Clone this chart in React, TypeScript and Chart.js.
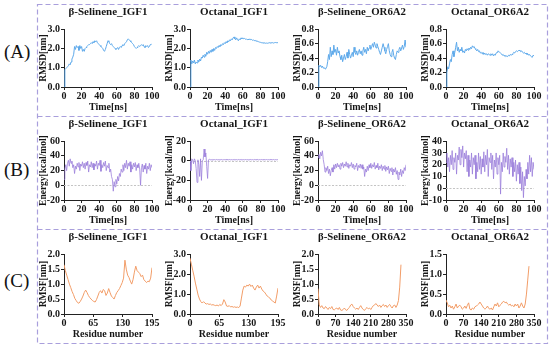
import React, { useEffect, useRef } from 'react';
import { Chart, registerables } from 'chart.js';

Chart.register(...registerables);

const SERIF = '"Times New Roman", "Liberation Serif", "DejaVu Serif", serif';

// ---------- Titles / labels ----------
const ROW_LABELS = ['(A)', '(B)', '(C)'];
const PANEL_TITLES = ['β-Selinene_IGF1', 'Octanal_IGF1', 'β-Selinene_OR6A2', 'Octanal_OR6A2'];
const X_TITLE_TIME = 'Time[ns]';
const X_TITLE_RES = 'Residue number';
const Y_TITLES = ['RMSD[nm]', 'Energy[kcal/mol]', 'RMSF[nm]'];

// ---------- (A) RMSD, one value per ns, 0..100 ns ----------
const RMSD_SEL_IGF1 = [
  0.0, 0.9, 0.95, 1.0, 1.05, 1.1, 1.2, 1.15, 1.3, 1.45,
  1.55, 1.7, 2.1, 1.95, 2.15, 2.05, 2.1, 1.9, 2.15, 2.0,
  2.1, 1.85, 1.95, 1.85, 2.0, 2.05, 2.1, 2.15, 2.2, 2.2,
  2.25, 2.3, 2.25, 2.35, 2.3, 2.4, 2.35, 2.4, 2.3, 2.25,
  2.2, 2.15, 2.1, 2.05, 2.0, 1.9, 1.85, 1.95, 2.1, 2.25,
  2.4, 2.35, 2.25, 2.2, 2.25, 2.15, 2.1, 2.05, 2.0, 1.95,
  2.0, 2.05, 1.95, 2.05, 2.1, 2.05, 2.15, 2.2, 2.15, 2.25,
  2.3, 2.35, 2.45, 2.5, 2.45, 2.4, 2.35, 2.3, 2.25, 2.2,
  2.1, 2.05, 2.0, 2.05, 2.1, 2.15, 2.1, 2.15, 2.2, 2.15,
  2.2, 2.1, 2.05, 2.15, 2.1, 2.15, 2.05, 2.1, 2.2, 2.2,
  2.25,
];
const RMSD_OCT_IGF1 = [
  0, 1.4, 1.2, 1.35, 1.25, 1.4, 1.2, 1.3, 1.25, 1.4,
  1.3, 1.45, 1.35, 1.55, 1.5, 1.65, 1.55, 1.7, 1.6, 1.8,
  1.7, 1.85, 1.75, 1.9, 1.8, 1.95, 1.85, 2.0, 1.9, 2.05,
  2.0, 2.1, 2.05, 2.15, 2.1, 2.2, 2.15, 2.25, 2.2, 2.3,
  2.25, 2.35, 2.3, 2.4, 2.35, 2.45, 2.4, 2.5, 2.45, 2.55,
  2.6, 2.5, 2.45, 2.55, 2.45, 2.4, 2.5, 2.45, 2.55, 2.5,
  2.55, 2.5, 2.52, 2.48, 2.5, 2.45, 2.48, 2.45, 2.5, 2.45,
  2.47, 2.42, 2.45, 2.4, 2.42, 2.38, 2.4, 2.36, 2.35, 2.33,
  2.32, 2.3, 2.3, 2.28, 2.3, 2.28, 2.27, 2.28, 2.27, 2.28,
  2.3, 2.29, 2.28, 2.3, 2.3, 2.28, 2.3, 2.31, 2.3, 2.3,
  2.3,
];
const RMSD_SEL_OR6A2 = [
  0, 0.3, 0.28, 0.3, 0.27, 0.29, 0.26, 0.27, 0.25, 0.26,
  0.28, 0.35, 0.45, 0.38, 0.55, 0.42, 0.5, 0.45, 0.58, 0.48,
  0.52, 0.44, 0.55, 0.47, 0.5, 0.42, 0.38, 0.44, 0.35, 0.4,
  0.45, 0.38, 0.42, 0.48, 0.4, 0.52, 0.45, 0.4, 0.44, 0.48,
  0.42, 0.55, 0.48, 0.45, 0.5, 0.44, 0.48, 0.52, 0.46, 0.5,
  0.44, 0.5, 0.55, 0.48, 0.52, 0.46, 0.55, 0.5, 0.54, 0.58,
  0.52, 0.56, 0.6, 0.55, 0.62, 0.58, 0.54, 0.6, 0.56, 0.52,
  0.48, 0.45, 0.5, 0.55, 0.6, 0.55, 0.5, 0.46, 0.52, 0.56,
  0.6, 0.5, 0.45, 0.42, 0.48, 0.52, 0.44, 0.4, 0.38, 0.45,
  0.5, 0.48, 0.52, 0.55, 0.5, 0.54, 0.58, 0.52, 0.56, 0.65,
  0.55,
];
const RMSD_OCT_OR6A2 = [
  0, 0.2, 0.28, 0.25, 0.32, 0.38, 0.35, 0.45, 0.5, 0.42,
  0.48, 0.55, 0.62, 0.5, 0.55, 0.48, 0.52, 0.5, 0.55, 0.48,
  0.5, 0.47, 0.52, 0.5, 0.53, 0.51, 0.54, 0.52, 0.55, 0.53,
  0.57, 0.55, 0.56, 0.53, 0.52, 0.5, 0.52, 0.49, 0.5, 0.47,
  0.48, 0.46, 0.48, 0.45, 0.47, 0.45, 0.46, 0.44, 0.46, 0.45,
  0.44, 0.46, 0.44, 0.46, 0.43, 0.45, 0.44, 0.47, 0.48, 0.5,
  0.49, 0.48, 0.47, 0.46, 0.44, 0.45, 0.43, 0.44, 0.42, 0.43,
  0.42, 0.44, 0.43, 0.45, 0.44, 0.45, 0.46, 0.48, 0.47, 0.49,
  0.5, 0.49, 0.5, 0.51, 0.5, 0.49, 0.5, 0.48, 0.47, 0.48,
  0.46, 0.47, 0.45, 0.46, 0.44, 0.45, 0.43, 0.42, 0.41, 0.44,
  0.43,
];

// ---------- (B) Energy, one value per ns, 0..100 ns ----------
const EN_SEL_IGF1 = [
  8, 22, 28, 20, 30, 34, 26, 36, 30, 33,
  24, 28, 16, 26, 22, 30, 25, 31, 20, 29,
  26, 32, 24, 30, 22, 31, 27, 33, 18, 28,
  25, 32, 24, 30, 21, 29, 26, 33, 22, 30,
  27, 34, 19, 28, 24, 31, 26, 33, 20, 27,
  24, 30, 18, 22, 12, 8, -8, 5, -2, 8,
  2, 12, 6, 16, 12, 22, 18, 28, 20, 30,
  24, 34, 22, 30, 26, 32, 18, 28, 22, 30,
  25, 31, 20, 28, 24, 30, 22, 0, 24, 29,
  18, 27, 22, 30, 16, 26, 22, 30, 20, 28,
  24,
];
const EN_OCT_IGF1 = [
  0, -10, 2, 1, -3, 2, 0, -8, -22, 1,
  -4, -16, 2, -20, 0, 1, 12, 4, 8, -6,
  -18, 1, 1.5, 1, 1.2, 0.8, 1.3, 1, 1.2, 0.9,
  1.3, 1, 1.2, 0.9, 1.2, 1, 1.3, 0.9, 1.1, 1.2,
  1, 1.3, 0.9, 1.2, 1, 1.3, 1, 1.2, 0.9, 1.2,
  1, 1.3, 1, 1.2, 0.9, 1.3, 1, 1.2, 1, 1.3,
  0.9, 1.2, 1, 1.3, 1, 1.2, 0.9, 1.2, 1, 1.3,
  1, 1.2, 0.9, 1.3, 1, 1.2, 1, 1.3, 0.9, 1.2,
  1, 1.3, 1, 1.2, 0.9, 1.2, 1, 1.3, 1, 1.2,
  0.9, 1.3, 1, 1.2, 1, 1.3, 0.9, 1.2, 1, 1.2,
  1,
];
const EN_SEL_OR6A2 = [
  38, 42, 36, 45, 40, 47, 35, 28, 18, 24,
  20, 26, 16, 22, 13, 20, 24, 18, 28, 22,
  29, 24, 30, 25, 28, 22, 30, 26, 31, 24,
  29, 26, 32, 25, 30, 23, 28, 26, 31, 24,
  29, 22, 27, 25, 30, 20, 27, 24, 29, 23,
  28, 22, 25, 12, 22, 18, 26, 20, 28, 24,
  30, 23, 28, 25, 31, 22, 27, 24, 30, 21,
  26, 23, 28, 20, 26, 22, 27, 19, 25, 21,
  26, 16, 23, 19, 24, 14, 22, 18, 24, 15,
  20, 8, 18, 14, 22, 12, 20, 16, 24, 20,
  28,
];
const EN_OCT_OR6A2 = [
  22, 30, 18, 26, 14, 28, 20, 32, 16, 26,
  22, 30, 12, 28, 24, 35, 20, 33, 26, 36,
  18, 30, 25, 32, 14, 28, 10, 24, 18, 30,
  12, 26, 20, 28, 8, 22, 14, 30, 16, 27,
  12, 25, 18, 31, 14, 28, 20, 33, 10, 26,
  22, 30, 16, 28, 8, 24, 18, 30, 12, 26,
  20, 28, -5, 22, 14, 30, 18, 27, 22, 34,
  16, 28, 12, 25, 18, 26, 10, 22, 14, 24,
  6, 20, 12, 22, 4, 18, -2, 14, -8, 10,
  2, 16, 8, 22, 12, 28, 14, 26, 10, 22,
  16,
];

// ---------- (C) RMSF ----------
// IGF1: every 3rd residue, 0..195
const RMSF_SEL_IGF1 = [
  1.65, 1.45, 1.3, 1.15, 1.0, 0.88, 0.75, 0.65, 0.52, 0.45,
  0.38, 0.36, 0.42, 0.5, 0.6, 0.72, 0.8, 0.72, 0.62, 0.55,
  0.5, 0.45, 0.42, 0.4, 0.48, 0.6, 0.72, 0.78, 0.7, 0.82,
  0.78, 0.62, 0.7, 0.85, 0.72, 0.6, 0.55, 0.5, 0.62, 0.72,
  0.78, 0.85, 0.95, 1.05, 1.2, 1.8, 1.5, 1.3, 1.22, 1.1,
  1.0, 1.15, 1.4, 1.6, 1.45, 1.4, 1.35, 1.25, 1.3, 1.15,
  1.1, 1.05, 1.1, 1.08, 1.2, 1.55,
];
const RMSF_OCT_IGF1 = [
  2.8, 2.5, 2.2, 1.9, 1.55, 1.25, 0.95, 0.75, 0.62, 0.55,
  0.62, 0.55, 0.5, 0.52, 0.48, 0.5, 0.45, 0.47, 0.44, 0.42,
  0.45, 0.4, 0.48, 0.42, 0.5, 0.72, 0.6, 0.4, 0.38, 0.42,
  0.35, 0.38, 0.34, 0.36, 0.33, 0.35, 0.32, 0.4, 0.8, 1.2,
  1.4, 1.35, 1.45, 1.4, 1.5, 1.38, 1.45, 1.3, 1.2, 1.35,
  1.45, 1.3, 1.4, 1.25, 1.15, 1.1, 1.0, 0.9, 0.85, 0.8,
  0.7, 0.65, 0.6, 0.55, 0.9, 1.3,
];
// OR6A2: every 5th residue, 0..330
const RMSF_SEL_OR6A2 = [
  0.85, 0.3, 0.22, 0.28, 0.2, 0.18, 0.25, 0.2, 0.15, 0.22,
  0.18, 0.25, 0.15, 0.14, 0.18, 0.2, 0.15, 0.22, 0.13, 0.12,
  0.15, 0.2, 0.14, 0.12, 0.18, 0.22, 0.3, 0.33, 0.25, 0.2,
  0.16, 0.2, 0.15, 0.22, 0.28, 0.2, 0.15, 0.12, 0.18, 0.22,
  0.17, 0.2, 0.15, 0.22, 0.28, 0.3, 0.35, 0.3, 0.25, 0.3,
  0.22, 0.28, 0.32, 0.25, 0.3, 0.22, 0.28, 0.32, 0.25, 0.2,
  0.28, 0.3, 0.22, 0.3, 0.45, 0.9, 1.65,
];
const RMSF_OCT_OR6A2 = [
  0.35, 0.28, 0.18, 0.22, 0.15, 0.2, 0.12, 0.18, 0.25, 0.15,
  0.2, 0.22, 0.18, 0.12, 0.15, 0.2, 0.14, 0.22, 0.28, 0.12,
  0.1, 0.15, 0.12, 0.18, 0.2, 0.22, 0.25, 0.3, 0.25, 0.2,
  0.15, 0.12, 0.15, 0.2, 0.14, 0.12, 0.15, 0.1, 0.18, 0.25,
  0.2, 0.28, 0.18, 0.22, 0.25, 0.3, 0.32, 0.28, 0.3, 0.25,
  0.22, 0.25, 0.2, 0.22, 0.18, 0.25, 0.2, 0.25, 0.15, 0.2,
  0.28, 0.2, 0.15, 0.25, 0.5, 0.85, 1.2,
];

// ---------- Axis ranges ----------
const TIME_STEP = 1;
const RES_STEP_IGF1 = 3;
const RES_STEP_OR6A2 = 5;

type PanelCfg = {
  title: string;
  values: number[];
  step: number;
  color: string;
  lineWidth: number;
  xMax: number;
  xStep: number;
  yMin: number;
  yMax: number;
  yStep: number;
  yDec: number;
  xTitle: string;
  yTitle: string;
  zero?: boolean;
};

const BLUE = '#5ea9ea';
const PURPLE = 'rgba(152,124,218,0.85)';
const ORANGE = '#f29d68';

const ROWS: PanelCfg[][] = [
  [
    { title: PANEL_TITLES[0], values: RMSD_SEL_IGF1, step: TIME_STEP, color: BLUE, lineWidth: 1, xMax: 100, xStep: 20, yMin: 0, yMax: 3, yStep: 1, yDec: 1, xTitle: X_TITLE_TIME, yTitle: Y_TITLES[0] },
    { title: PANEL_TITLES[1], values: RMSD_OCT_IGF1, step: TIME_STEP, color: BLUE, lineWidth: 1, xMax: 100, xStep: 20, yMin: 0, yMax: 3, yStep: 1, yDec: 1, xTitle: X_TITLE_TIME, yTitle: Y_TITLES[0] },
    { title: PANEL_TITLES[2], values: RMSD_SEL_OR6A2, step: TIME_STEP, color: BLUE, lineWidth: 1, xMax: 100, xStep: 20, yMin: 0, yMax: 0.8, yStep: 0.2, yDec: 1, xTitle: X_TITLE_TIME, yTitle: Y_TITLES[0] },
    { title: PANEL_TITLES[3], values: RMSD_OCT_OR6A2, step: TIME_STEP, color: BLUE, lineWidth: 1, xMax: 100, xStep: 20, yMin: 0, yMax: 0.8, yStep: 0.2, yDec: 1, xTitle: X_TITLE_TIME, yTitle: Y_TITLES[0] },
  ],
  [
    { title: PANEL_TITLES[0], values: EN_SEL_IGF1, step: TIME_STEP, color: PURPLE, lineWidth: 0.9, xMax: 100, xStep: 20, yMin: -20, yMax: 60, yStep: 20, yDec: 0, xTitle: X_TITLE_TIME, yTitle: Y_TITLES[1], zero: true },
    { title: PANEL_TITLES[1], values: EN_OCT_IGF1, step: TIME_STEP, color: PURPLE, lineWidth: 0.9, xMax: 100, xStep: 20, yMin: -40, yMax: 20, yStep: 20, yDec: 0, xTitle: X_TITLE_TIME, yTitle: Y_TITLES[1], zero: true },
    { title: PANEL_TITLES[2], values: EN_SEL_OR6A2, step: TIME_STEP, color: PURPLE, lineWidth: 0.9, xMax: 100, xStep: 20, yMin: -20, yMax: 60, yStep: 20, yDec: 0, xTitle: X_TITLE_TIME, yTitle: Y_TITLES[1], zero: true },
    { title: PANEL_TITLES[3], values: EN_OCT_OR6A2, step: TIME_STEP, color: PURPLE, lineWidth: 0.9, xMax: 100, xStep: 20, yMin: -10, yMax: 40, yStep: 10, yDec: 0, xTitle: X_TITLE_TIME, yTitle: Y_TITLES[1], zero: true },
  ],
  [
    { title: PANEL_TITLES[0], values: RMSF_SEL_IGF1, step: RES_STEP_IGF1, color: ORANGE, lineWidth: 1, xMax: 195, xStep: 65, yMin: 0, yMax: 2, yStep: 0.5, yDec: 1, xTitle: X_TITLE_RES, yTitle: Y_TITLES[2] },
    { title: PANEL_TITLES[1], values: RMSF_OCT_IGF1, step: RES_STEP_IGF1, color: ORANGE, lineWidth: 1, xMax: 195, xStep: 65, yMin: 0, yMax: 3, yStep: 1, yDec: 1, xTitle: X_TITLE_RES, yTitle: Y_TITLES[2] },
    { title: PANEL_TITLES[2], values: RMSF_SEL_OR6A2, step: RES_STEP_OR6A2, color: ORANGE, lineWidth: 1, xMax: 350, xStep: 70, yMin: 0, yMax: 2, yStep: 0.5, yDec: 1, xTitle: X_TITLE_RES, yTitle: Y_TITLES[2] },
    { title: PANEL_TITLES[3], values: RMSF_OCT_OR6A2, step: RES_STEP_OR6A2, color: ORANGE, lineWidth: 1, xMax: 350, xStep: 70, yMin: 0, yMax: 1.5, yStep: 0.5, yDec: 1, xTitle: X_TITLE_RES, yTitle: Y_TITLES[2] },
  ],
];

const zeroLinePlugin = {
  id: 'zeroLine',
  beforeDatasetsDraw(chart: any) {
    const y = chart.scales.y.getPixelForValue(0);
    const { left, right } = chart.chartArea;
    const ctx = chart.ctx;
    ctx.save();
    ctx.strokeStyle = '#c4c4c4';
    ctx.lineWidth = 1;
    ctx.setLineDash([2, 1.5]);
    ctx.beginPath();
    ctx.moveTo(left, Math.round(y) + 0.5);
    ctx.lineTo(right, Math.round(y) + 0.5);
    ctx.stroke();
    ctx.restore();
  },
};

const TEXT = '#161616';
const AXIS = '#222222';

function Panel({ cfg, left, top, width, height }: { cfg: PanelCfg; left: number; top: number; width: number; height: number }) {
  const ref = useRef<HTMLCanvasElement>(null);
  useEffect(() => {
    const chart = new Chart(ref.current as HTMLCanvasElement, {
      type: 'line',
      data: {
        datasets: [
          {
            data: cfg.values.map((v, i) => ({ x: i * cfg.step, y: v })),
            borderColor: cfg.color,
            borderWidth: cfg.lineWidth,
            pointRadius: 0,
            tension: 0,
            fill: false,
          },
        ],
      },
      options: {
        responsive: false,
        animation: false,
        maintainAspectRatio: false,
        layout: { padding: { left: 0, right: 10, top: 0, bottom: 0 } },
        plugins: {
          legend: { display: false },
          tooltip: { enabled: false },
          title: {
            display: true,
            text: cfg.title,
            fullSize: false,
            color: TEXT,
            font: { family: SERIF, size: 11, weight: 'bold' },
            padding: { top: 2, bottom: 10 },
          },
        },
        scales: {
          x: {
            type: 'linear',
            min: 0,
            max: cfg.xMax,
            afterFit: (s: any) => {
              s.height = 29;
            },
            ticks: {
              stepSize: cfg.xStep,
              autoSkip: false,
              maxRotation: 0,
              minRotation: 0,
              padding: 0,
              color: TEXT,
              font: { family: SERIF, size: 10, weight: 'bold' },
              callback: (v: any) => String(v),
            },
            grid: { drawOnChartArea: false, drawTicks: true, tickLength: 3, color: AXIS },
            border: { display: true, color: AXIS, width: 1 },
            title: {
              display: true,
              text: cfg.xTitle,
              color: TEXT,
              font: { family: SERIF, size: 10, weight: 'bold' },
              padding: { top: 0, bottom: 3 },
            },
          },
          y: {
            min: cfg.yMin,
            max: cfg.yMax,
            afterFit: (s: any) => {
              s.width = 28;
            },
            ticks: {
              stepSize: cfg.yStep,
              autoSkip: false,
              padding: 1,
              color: TEXT,
              font: { family: SERIF, size: 10, weight: 'bold' },
              callback: (v: any) => Number(v).toFixed(cfg.yDec),
            },
            grid: { drawOnChartArea: false, drawTicks: true, tickLength: 3, color: AXIS },
            border: { display: true, color: AXIS, width: 1 },
            title: {
              display: true,
              text: cfg.yTitle,
              color: TEXT,
              font: { family: SERIF, size: 9.5, weight: 'bold' },
              padding: { top: 2, bottom: 0 },
            },
          },
        },
      } as any,
      plugins: cfg.zero ? [zeroLinePlugin] : [],
    });
    return () => chart.destroy();
  }, [cfg]);
  return (
    <canvas
      ref={ref}
      width={width}
      height={height}
      style={{ position: 'absolute', left, top, width, height }}
    />
  );
}

const ROW_TOPS = [4, 116, 229];
const ROW_HEIGHTS = [112, 113, 114];
const COL_LEFTS = [36, 162, 290, 418];
const PANEL_W = 126;
const LABEL_CENTERS = [52, 170, 281];

export default function App() {
  const boxLeft = 37.5;
  const boxRight = 547.5;
  const boxTop = 4.5;
  const boxBottom = 343.5;
  const dash = '5 3';
  const stroke = '#a99fdc';
  return (
    <div style={{ position: 'absolute', left: 0, top: 0, width: 550, height: 348, background: '#fff', overflow: 'hidden' }}>
      {ROWS.map((row, r) =>
        row.map((cfg, c) => (
          <Panel key={`${r}-${c}`} cfg={cfg} left={COL_LEFTS[c]} top={ROW_TOPS[r]} width={PANEL_W} height={ROW_HEIGHTS[r]} />
        ))
      )}
      {ROW_LABELS.map((t, r) => (
        <div
          key={t}
          style={{
            position: 'absolute',
            left: 4,
            top: LABEL_CENTERS[r] - 11,
            height: 22,
            lineHeight: '22px',
            fontFamily: SERIF,
            fontSize: 19,
            color: '#111',
          }}
        >
          {t}
        </div>
      ))}
      <svg width={550} height={348} style={{ position: 'absolute', left: 0, top: 0, pointerEvents: 'none' }}>
        <rect x={boxLeft} y={boxTop} width={boxRight - boxLeft} height={boxBottom - boxTop} fill="none" stroke={stroke} strokeWidth={1.2} strokeDasharray={dash} />
        <line x1={boxLeft} x2={boxRight} y1={116.5} y2={116.5} stroke={stroke} strokeWidth={1.2} strokeDasharray={dash} />
        <line x1={boxLeft} x2={boxRight} y1={229.5} y2={229.5} stroke={stroke} strokeWidth={1.2} strokeDasharray={dash} />
      </svg>
    </div>
  );
}
